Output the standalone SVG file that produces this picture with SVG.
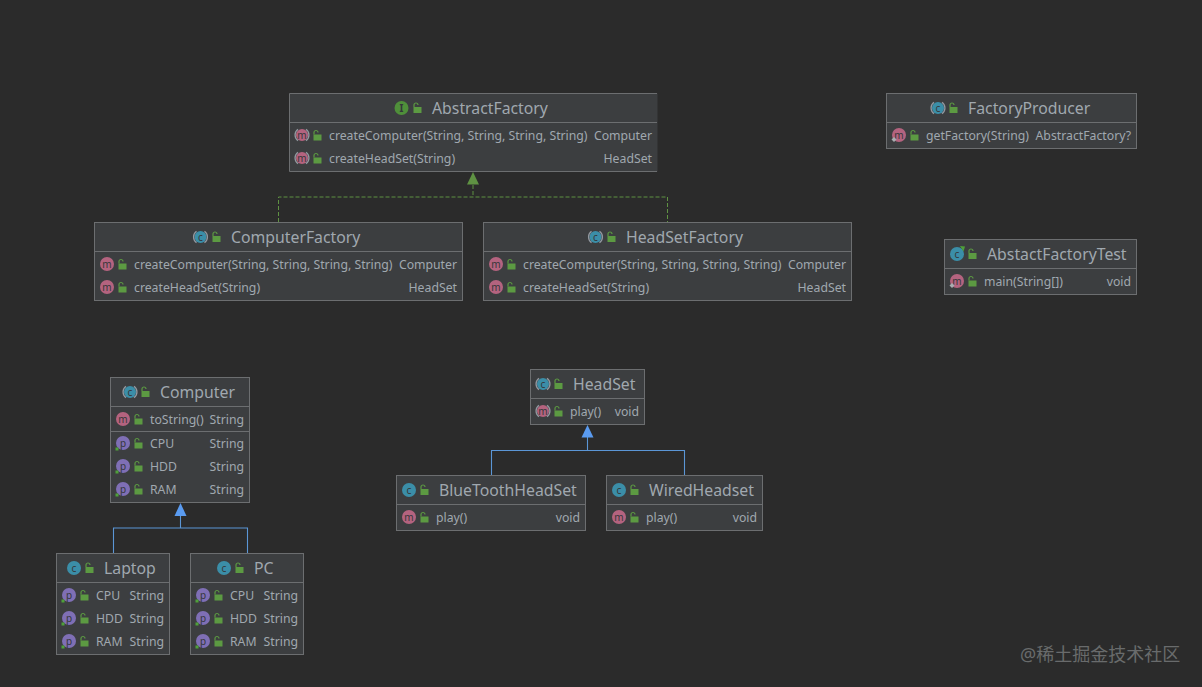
<svg xmlns="http://www.w3.org/2000/svg" width="1202" height="687" viewBox="0 0 1202 687">
<style>
text{font-family:"Noto Sans","Liberation Sans",sans-serif;fill:#a0a8af}
.t{font-size:15.8px}
.r{font-size:12.25px}
.e{text-anchor:end}
.box{fill:#3c3e40;stroke:#6c6e70;stroke-width:1}
.sep{stroke:#6c6e70;stroke-width:1;fill:none}
.l{font-size:10px;fill:#35373a;text-anchor:middle}
.c{fill:#3b8ea8}.m{fill:#b4637f}.p{fill:#7f6fb5}.i{fill:#4f8f3a}
.arc{fill:none;stroke:#9298a0;stroke-width:1.3}
.blue{fill:none;stroke:#5b96d6;stroke-width:1.1}
.green{fill:none;stroke:#5f9243;stroke-width:1;stroke-dasharray:4 2}
.wm{font-family:"Noto Sans","Noto Sans CJK SC",sans-serif;font-size:18px;fill:#696b6c}
</style>
<defs>
<g id="lock"><path d="M-3.500-1h8v6h-8z" fill="#5c9a42"/><path d="M-3-1v-2a2 2 0 0 1 4 0" fill="none" stroke="#5c9a42" stroke-width="1.2"/></g>
<g id="arcs"><path class="arc" d="M-4-5.700a7 7 0 0 0 0 11.400M4-5.700a7 7 0 0 1 0 11.400"/></g>
<path id="dia" d="M-7.500 4.500l2.500-2.500 2.500 2.500-2.500 2.500z" fill="#a8adb0"/>
<rect id="sq" x="-7.500" y="4.500" width="3" height="3" fill="#4fa03a"/>
</defs>
<rect width="1202" height="687" fill="#2b2b2b"/>

<g id="connectors">
<path class="green" d="M473 185V197M278.500 222V197H667.500V222"/>
<path d="M473 172l6 12.500h-12z" fill="#5f9243"/>
<path class="blue" d="M180.500 516V528M113.500 553V528H247.500V553"/>
<path d="M180.500 503l6 13h-12z" fill="#5a9bf0"/>
<path class="blue" d="M587.500 437V450.500M491.500 475V450.500H684.500V475"/>
<path d="M587.500 425l6 12.500h-12z" fill="#5a9bf0"/>
</g>

<g id="AbstractFactory">
<rect x="289.500" y="93.500" width="368" height="78" fill="#3c3e40"/>
<path class="sep" d="M657 93.500H289.500V171.500H657M289.500 122.500H657"/>
<circle class="i" cx="401.500" cy="108" r="7"/><text class="l" x="401.500" y="111.500" style="font-weight:bold">I</text>
<use href="#lock" x="417" y="108"/><text class="t" x="432" y="114">AbstractFactory</text>
<circle class="m" cx="302" cy="135" r="6"/><use href="#arcs" x="302" y="135"/><text class="l" x="302" y="138.500">m</text>
<use href="#lock" x="317" y="135.500"/><text class="r" x="329" y="140">createComputer(String, String, String, String)</text><text class="r e" x="652" y="140">Computer</text>
<circle class="m" cx="302" cy="158" r="6"/><use href="#arcs" x="302" y="158"/><text class="l" x="302" y="161.500">m</text>
<use href="#lock" x="317" y="158.500"/><text class="r" x="329" y="163">createHeadSet(String)</text><text class="r e" x="652" y="163">HeadSet</text>
</g>

<g id="ComputerFactory">
<rect class="box" x="94.500" y="222.500" width="368" height="78"/><path class="sep" d="M94.500 251.500H462.500"/>
<circle class="c" cx="200.500" cy="237" r="6"/><use href="#arcs" x="200.500" y="237"/><text class="l" x="200.500" y="240.500">c</text>
<use href="#lock" x="216" y="237"/><text class="t" x="231" y="243">ComputerFactory</text>
<circle class="m" cx="107" cy="264" r="7"/><text class="l" x="107" y="267.500">m</text>
<use href="#lock" x="122" y="264.500"/><text class="r" x="134" y="269">createComputer(String, String, String, String)</text><text class="r e" x="457" y="269">Computer</text>
<circle class="m" cx="107" cy="287" r="7"/><text class="l" x="107" y="290.500">m</text>
<use href="#lock" x="122" y="287.500"/><text class="r" x="134" y="292">createHeadSet(String)</text><text class="r e" x="457" y="292">HeadSet</text>
</g>

<g id="HeadSetFactory">
<rect class="box" x="483.500" y="222.500" width="368" height="78"/><path class="sep" d="M483.500 251.500H851.500"/>
<circle class="c" cx="595.500" cy="237" r="6"/><use href="#arcs" x="595.500" y="237"/><text class="l" x="595.500" y="240.500">c</text>
<use href="#lock" x="611" y="237"/><text class="t" x="626" y="243">HeadSetFactory</text>
<circle class="m" cx="496" cy="264" r="7"/><text class="l" x="496" y="267.500">m</text>
<use href="#lock" x="511" y="264.500"/><text class="r" x="523" y="269">createComputer(String, String, String, String)</text><text class="r e" x="846" y="269">Computer</text>
<circle class="m" cx="496" cy="287" r="7"/><text class="l" x="496" y="290.500">m</text>
<use href="#lock" x="511" y="287.500"/><text class="r" x="523" y="292">createHeadSet(String)</text><text class="r e" x="846" y="292">HeadSet</text>
</g>

<g id="FactoryProducer">
<rect class="box" x="886.500" y="93.500" width="250" height="55"/><path class="sep" d="M886.500 122.500H1136.500"/>
<circle class="c" cx="938" cy="108" r="6"/><use href="#arcs" x="938" y="108"/><text class="l" x="938" y="111.500">c</text>
<use href="#lock" x="953" y="108"/><text class="t" x="968" y="114">FactoryProducer</text>
<circle class="m" cx="899" cy="135" r="7"/><text class="l" x="899" y="138.500">m</text><use href="#dia" x="899" y="135"/>
<use href="#lock" x="914" y="135.500"/><text class="r" x="926" y="140">getFactory(String)</text><text class="r e" x="1131" y="140">AbstractFactory?</text>
</g>

<g id="AbstactFactoryTest">
<rect class="box" x="944.500" y="239.500" width="192" height="55"/><path class="sep" d="M944.500 268.500H1136.500"/>
<circle class="c" cx="957" cy="254" r="7"/><text class="l" x="957" y="257.500">c</text><path d="M960 246l5 .5-1.500 5z" fill="#4fa03a"/>
<use href="#lock" x="972" y="254"/><text class="t" x="987" y="260">AbstactFactoryTest</text>
<circle class="m" cx="957" cy="281" r="7"/><text class="l" x="957" y="284.500">m</text><use href="#dia" x="957" y="281"/>
<use href="#lock" x="972" y="281.500"/><text class="r" x="984" y="286">main(String[])</text><text class="r e" x="1131" y="286">void</text>
</g>

<g id="Computer">
<rect class="box" x="110.500" y="377.500" width="139" height="125"/><path class="sep" d="M110.500 406.500H249.500M110.500 431.500H249.500"/>
<circle class="c" cx="130" cy="392" r="6"/><use href="#arcs" x="130" y="392"/><text class="l" x="130" y="395.500">c</text>
<use href="#lock" x="145" y="392"/><text class="t" x="160" y="398">Computer</text>
<circle class="m" cx="123" cy="419" r="7"/><text class="l" x="123" y="422.500">m</text>
<use href="#lock" x="138" y="419.500"/><text class="r" x="150" y="424">toString()</text><text class="r e" x="244" y="424">String</text>
<circle class="p" cx="123" cy="443" r="7"/><text class="l" x="123" y="446.500">p</text><use href="#sq" x="123" y="443"/>
<use href="#lock" x="138" y="443.500"/><text class="r" x="150" y="448">CPU</text><text class="r e" x="244" y="448">String</text>
<circle class="p" cx="123" cy="466" r="7"/><text class="l" x="123" y="469.500">p</text><use href="#sq" x="123" y="466"/>
<use href="#lock" x="138" y="466.500"/><text class="r" x="150" y="471">HDD</text><text class="r e" x="244" y="471">String</text>
<circle class="p" cx="123" cy="489" r="7"/><text class="l" x="123" y="492.500">p</text><use href="#sq" x="123" y="489"/>
<use href="#lock" x="138" y="489.500"/><text class="r" x="150" y="494">RAM</text><text class="r e" x="244" y="494">String</text>
</g>

<g id="Laptop">
<rect class="box" x="56.500" y="553.500" width="113" height="101"/><path class="sep" d="M56.500 582.500H169.500"/>
<circle class="c" cx="74" cy="568" r="7"/><text class="l" x="74" y="571.500">c</text>
<use href="#lock" x="89" y="568"/><text class="t" x="104" y="574">Laptop</text>
<circle class="p" cx="69" cy="595" r="7"/><text class="l" x="69" y="598.500">p</text><use href="#sq" x="69" y="595"/>
<use href="#lock" x="84" y="595.500"/><text class="r" x="96" y="600">CPU</text><text class="r e" x="164" y="600">String</text>
<circle class="p" cx="69" cy="618" r="7"/><text class="l" x="69" y="621.500">p</text><use href="#sq" x="69" y="618"/>
<use href="#lock" x="84" y="618.500"/><text class="r" x="96" y="623">HDD</text><text class="r e" x="164" y="623">String</text>
<circle class="p" cx="69" cy="641" r="7"/><text class="l" x="69" y="644.500">p</text><use href="#sq" x="69" y="641"/>
<use href="#lock" x="84" y="641.500"/><text class="r" x="96" y="646">RAM</text><text class="r e" x="164" y="646">String</text>
</g>

<g id="PC">
<rect class="box" x="190.500" y="553.500" width="113" height="101"/><path class="sep" d="M190.500 582.500H303.500"/>
<circle class="c" cx="224" cy="568" r="7"/><text class="l" x="224" y="571.500">c</text>
<use href="#lock" x="239" y="568"/><text class="t" x="254" y="574">PC</text>
<circle class="p" cx="203" cy="595" r="7"/><text class="l" x="203" y="598.500">p</text><use href="#sq" x="203" y="595"/>
<use href="#lock" x="218" y="595.500"/><text class="r" x="230" y="600">CPU</text><text class="r e" x="298" y="600">String</text>
<circle class="p" cx="203" cy="618" r="7"/><text class="l" x="203" y="621.500">p</text><use href="#sq" x="203" y="618"/>
<use href="#lock" x="218" y="618.500"/><text class="r" x="230" y="623">HDD</text><text class="r e" x="298" y="623">String</text>
<circle class="p" cx="203" cy="641" r="7"/><text class="l" x="203" y="644.500">p</text><use href="#sq" x="203" y="641"/>
<use href="#lock" x="218" y="641.500"/><text class="r" x="230" y="646">RAM</text><text class="r e" x="298" y="646">String</text>
</g>

<g id="HeadSet">
<rect class="box" x="530.500" y="369.500" width="114" height="55"/><path class="sep" d="M530.500 398.500H644.500"/>
<circle class="c" cx="543" cy="384" r="6"/><use href="#arcs" x="543" y="384"/><text class="l" x="543" y="387.500">c</text>
<use href="#lock" x="558" y="384"/><text class="t" x="573" y="390">HeadSet</text>
<circle class="m" cx="543" cy="411" r="6"/><use href="#arcs" x="543" y="411"/><text class="l" x="543" y="414.500">m</text>
<use href="#lock" x="558" y="411.500"/><text class="r" x="570" y="416">play()</text><text class="r e" x="639" y="416">void</text>
</g>

<g id="BlueToothHeadSet">
<rect class="box" x="396.500" y="475.500" width="189" height="55"/><path class="sep" d="M396.500 504.500H585.500"/>
<circle class="c" cx="409" cy="490" r="7"/><text class="l" x="409" y="493.500">c</text>
<use href="#lock" x="424" y="490"/><text class="t" x="439" y="496">BlueToothHeadSet</text>
<circle class="m" cx="409" cy="517" r="7"/><text class="l" x="409" y="520.500">m</text>
<use href="#lock" x="424" y="517.500"/><text class="r" x="436" y="522">play()</text><text class="r e" x="580" y="522">void</text>
</g>

<g id="WiredHeadset">
<rect class="box" x="606.500" y="475.500" width="156" height="55"/><path class="sep" d="M606.500 504.500H762.500"/>
<circle class="c" cx="619" cy="490" r="7"/><text class="l" x="619" y="493.500">c</text>
<use href="#lock" x="634" y="490"/><text class="t" x="649" y="496">WiredHeadset</text>
<circle class="m" cx="619" cy="517" r="7"/><text class="l" x="619" y="520.500">m</text>
<use href="#lock" x="634" y="517.500"/><text class="r" x="646" y="522">play()</text><text class="r e" x="757" y="522">void</text>
</g>

<text class="wm" x="1020" y="661">@稀土掘金技术社区</text>
</svg>
